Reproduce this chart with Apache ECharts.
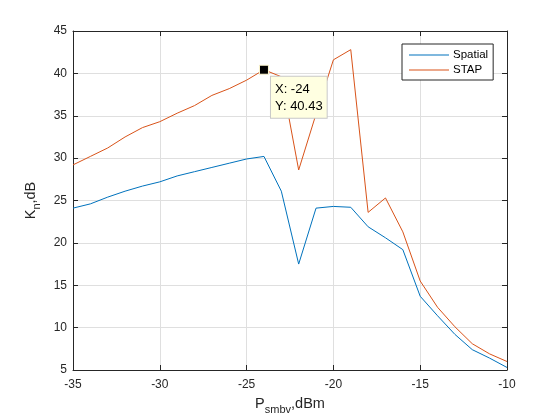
<!DOCTYPE html>
<html>
<head>
<meta charset="utf-8">
<script src="https://cdn.jsdelivr.net/npm/echarts@6/dist/echarts.min.js"></script>
<style>html,body{margin:0;padding:0;background:#fff;}#c{width:560px;height:420px;}</style>
</head>
<body>
<div id="c"></div>
<script>
var xValues = [-35,-34,-33,-32,-31,-30,-29,-28,-27,-26,-25,-24,-23,-22,-21,-20,-19,-18,-17,-16,-15,-14,-13,-12,-11,-10];
var spatial = [24.1,24.6,25.4,26.1,26.7,27.2,27.9,28.4,28.9,29.4,29.9,30.2,26.1,17.5,24.1,24.3,24.2,21.9,20.6,19.2,13.7,11.4,9.2,7.4,6.4,5.3];
var stap = [29.2,30.2,31.2,32.5,33.6,34.3,35.3,36.2,37.4,38.2,39.2,40.43,39.6,28.6,35.2,41.6,42.8,23.6,25.3,21.3,15.5,12.4,10.1,8.1,6.9,6.0];
var seriesNames = ['Spatial','STAP'];
var datatip = {x: -24, y: 40.43};

function pairs(ys){ return xValues.map(function(x,i){ return [x, ys[i]]; }); }
var FONT = 'Liberation Sans, Arial, Helvetica, sans-serif';
var axisCol = '#262626';
var gridCol = '#dfdfdf';

var chart = echarts.init(document.getElementById('c'));
var baseX = {
  type:'value', min:-35, max:-10, interval:5,
  axisLine:{show:true, onZero:false, lineStyle:{color:axisCol, width:1}},
  axisTick:{show:true, inside:true, length:5, lineStyle:{color:axisCol}},
  splitLine:{show:false}
};
var baseY = {
  type:'value', min:5, max:45, interval:5,
  axisLine:{show:true, onZero:false, lineStyle:{color:axisCol, width:1}},
  axisTick:{show:true, inside:true, length:5, lineStyle:{color:axisCol}},
  splitLine:{show:false}
};
var option = {
  animation:false,
  backgroundColor:'#fff',
  textStyle:{fontFamily:FONT},
  grid:{left:73, right:53, top:31, bottom:50, containLabel:false},
  legend:{
    data:seriesNames, orient:'vertical', left:402, top:44,
    padding:[5,5,4,7], itemGap:3, itemWidth:40, itemHeight:1, icon:'rect',
    borderColor:axisCol, borderWidth:1, backgroundColor:'#fff',
    textStyle:{fontFamily:FONT, fontSize:11.5, color:'#000', padding:[0,0,0,-1]}
  },
  xAxis:[
    Object.assign({}, baseX, {
      position:'bottom',
      splitLine:{show:true, lineStyle:{color:gridCol, width:1}},
      axisLabel:{color:axisCol, fontSize:12, fontFamily:FONT, margin:9},
      name:'{a|P}{s|smbv}{a|,dBm}', nameLocation:'middle', nameGap:26,
      nameTextStyle:{rich:{
        a:{fontSize:14.5, fontFamily:FONT, color:axisCol, verticalAlign:'top'},
        s:{fontSize:11, fontFamily:FONT, color:axisCol, verticalAlign:'bottom', padding:[8,0,0,0]}
      }}
    }),
    Object.assign({}, baseX, {position:'top', axisLabel:{show:false}})
  ],
  yAxis:[
    Object.assign({}, baseY, {
      position:'left',
      splitLine:{show:true, lineStyle:{color:gridCol, width:1}},
      axisLabel:{color:axisCol, fontSize:12, fontFamily:FONT, margin:6},
      name:'{a|K}{s|n}{a|,dB}', nameLocation:'middle', nameGap:22, nameRotate:90,
      nameTextStyle:{rich:{
        a:{fontSize:14.5, fontFamily:FONT, color:axisCol, verticalAlign:'top'},
        s:{fontSize:11, fontFamily:FONT, color:axisCol, verticalAlign:'bottom', padding:[8,0,0,0]}
      }}
    }),
    Object.assign({}, baseY, {position:'right', axisLabel:{show:false}})
  ],
  series:[
    {
      name:seriesNames[0], type:'line', data:pairs(spatial), symbol:'none',
      lineStyle:{color:'#0072BD', width:1}, itemStyle:{color:'#0072BD'}, z:3
    },
    {
      name:seriesNames[1], type:'line', data:pairs(stap), symbol:'none',
      lineStyle:{color:'#D95319', width:1}, itemStyle:{color:'#D95319'}, z:4,
      markPoint:{
        symbol:'rect', symbolSize:9,
        itemStyle:{color:'#000', borderColor:'#fff8d0', borderWidth:1},
        data:[{coord:[datatip.x, datatip.y]}],
        label:{
          show:true, position:[12,12],
          formatter:'X: ' + datatip.x + '\nY: ' + datatip.y,
          color:'#000', fontSize:13, fontFamily:FONT, lineHeight:17, align:'left',
          backgroundColor:'#ffffe1', borderColor:'#c8c8c8', borderWidth:1,
          padding:[4,4,3,4]
        }
      }
    }
  ]
};
chart.setOption(option);
</script>
</body>
</html>
